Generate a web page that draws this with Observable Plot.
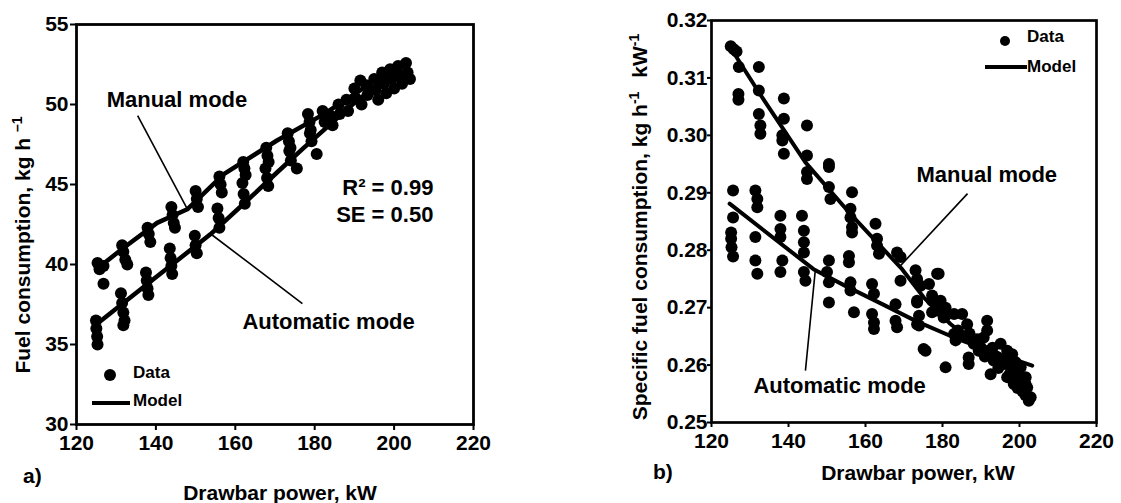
<!DOCTYPE html>
<html><head><meta charset="utf-8">
<script src="https://cdn.jsdelivr.net/npm/d3@7"></script>
<script src="https://cdn.jsdelivr.net/npm/@observablehq/plot@0.6"></script>
<style>
body{margin:0;background:#fff;}
#wrap{display:flex;width:1121px;height:503px;overflow:hidden;}
svg{display:block;}
</style></head><body><div id="wrap"></div>
<script>
const FONT = "'Liberation Sans', Arial, Helvetica, sans-serif";

// ---------- Panel a) Fuel consumption ----------
const xTicks = [120, 140, 160, 180, 200, 220];
const aYTicks = [30, 35, 40, 45, 50, 55];

const aManualX = [125.3,125.8,126.8,126.8, 131.5,131.8,132.3,132.8, 137.9,138.2,138.6, 143.9,144.2,144.5,144.8,
  150.0,150.3,150.6, 156.0,156.3,156.6, 162.0,162.3,162.6, 167.8,168.1,168.4, 173.2,173.5,173.9, 178.3,178.7,179.0,
  182.0,182.5,184.0,184.5,186.0,186.3,188.0,188.4,190.0,190.3,191.5,191.8,193.0,193.3,195.0,195.3,196.0,197.0,197.4,198.0,
  199.0,199.4,200.0,201.0,201.4,202.0,203.0,203.4,204.0];
const aManualY = [40.1,39.7,39.9,38.8, 41.2,40.8,40.3,40.0, 42.3,41.9,41.4, 43.6,43.1,42.6,42.3,
  44.6,44.1,43.6, 45.5,45.0,44.5, 46.4,46.0,45.6, 47.3,46.8,46.4, 48.2,47.7,47.3, 49.4,48.9,48.4,
  49.6,48.9,49.3,48.7,50.0,49.4,50.3,49.6,51.0,50.4,51.5,50.0,51.2,50.6,51.6,50.9,50.3,52.0,51.3,50.7,
  52.2,51.6,51.0,52.4,51.8,51.3,52.6,52.0,51.6];
const aAutoX = [124.9,125.0,125.2,125.3, 131.2,131.5,131.8,132.1,131.8, 137.5,137.7,137.9,138.1, 143.5,143.7,143.9,144.1,
  149.8,150.0,150.3, 155.5,155.8,156.0, 161.8,162.1,162.4, 167.6,168.0,168.3, 173.6,174.0,175.5, 180.5, 178.8,179.2];
const aAutoY = [36.5,36.0,35.5,35.0, 38.2,37.6,37.0,36.5,36.2, 39.5,39.0,38.5,38.1, 41.0,40.4,39.9,39.4,
  41.8,41.2,40.7, 43.5,42.9,42.3, 45.1,44.4,43.8, 46.0,45.4,44.9, 47.1,46.5,46.0, 46.9, 48.2,47.7];
const aManualModelX = [125.5, 131.9, 140.3, 147.9, 157.1, 170.5, 182.3, 194.9, 203.3];
const aManualModelY = [39.8, 41.05, 42.6, 43.45, 45.65, 47.75, 49.4, 51.45, 52.7];
const aAutoModelX = [125.2, 140.0, 153.8, 163.0, 170.5, 177.3, 190.0, 203.3];
const aAutoModelY = [36.3, 39.2, 41.9, 44.0, 45.75, 47.3, 50.1, 52.6];

const aModeLabels = ["Manual mode", "Automatic mode"];
const aModeX = [127.6, 161.8];
const aModeY = [50.28, 36.44];
const aStatLabels = ["R² = 0.99", "SE = 0.50"];
const aStatX = [209.9, 209.9];
const aStatY = [44.8, 43.1];
const aLeaderX1 = [135.4, 154.0], aLeaderY1 = [49.31, 41.875];
const aLeaderX2 = [147.96, 176.9], aLeaderY2 = [43.44, 37.56];

// ---------- Panel b) Specific fuel consumption ----------
const bYTicks = [0.25, 0.26, 0.27, 0.28, 0.29, 0.30, 0.31, 0.32];
const bManualX = [125.0,125.8,126.5,127.1,127.0,127.0, 132.3,132.3,132.3,132.7,132.7, 138.8,138.8,138.4,138.4,138.8,
  144.8,144.8,144.8,144.8, 150.5,150.5,150.5,150.9, 156.5,156.1,156.1,156.5,156.5, 162.6,163.0,163.0,163.5,
  168.2,169.1,169.1,173.0,173.4,178.6,176.5,173.4,177.3,177.3,180.8,180.8,
  174.3,179.0,177.3,179.5,178.6,180.3,183.0,185.1,186.4,188.1,189.4,191.6,191.6,190.7,192.0,193.3,
  195.1,196.8,198.1,195.9,196.8,198.5,199.4,200.3,201.6,202.0,202.9,202.4,198.5,200.7,
  184.0,185.5,187.0,189.0,190.0,191.0,193.0,194.0,194.5,196.0,197.5,199.0,200.0,201.0,197.5,199.5,201.5];
const bManualY = [0.3155,0.3150,0.3146,0.3119,0.3072,0.3062, 0.3119,0.3078,0.3037,0.3017,0.3003, 0.3064,0.3029,0.3000,0.2991,0.2968,
  0.3017,0.2965,0.2936,0.2924, 0.2950,0.2945,0.2910,0.2889, 0.2901,0.2872,0.2857,0.2840,0.2831, 0.2846,0.2820,0.2808,0.2794,
  0.2796,0.2788,0.2747,0.2765,0.2750,0.2759,0.2741,0.2712,0.2712,0.2692,0.2700,0.2686,
  0.2738,0.2759,0.2721,0.2712,0.2695,0.2683,0.2689,0.2689,0.2671,0.2637,0.2625,0.2677,0.2660,0.2648,0.2625,0.2608,
  0.2637,0.2625,0.2619,0.2602,0.2579,0.2590,0.2573,0.2596,0.2579,0.2561,0.2544,0.2538,0.2567,0.2555,
  0.2660,0.2650,0.2655,0.2645,0.2630,0.2615,0.2630,0.2615,0.2595,0.2610,0.2600,0.2605,0.2580,0.2565,0.2585,0.2560,0.2548];
const bAutoX = [125.6,125.6,125.1,125.1,125.2,125.6, 131.4,131.9,131.9,131.4,131.4,131.9, 137.9,137.9,137.9,138.4,137.9,
  143.5,144.0,144.0,144.0,144.0,144.4, 150.5,150.0,150.5,150.5, 155.7,155.7,156.1,156.1,157.0,
  161.7,162.2,161.7,162.2,162.2, 167.8,167.8,168.2, 173.4,173.4,175.1,180.8, 173.9,173.9,175.6,183.0,183.4,186.8,186.8,192.5];
const bAutoY = [0.2904,0.2857,0.2831,0.2820,0.2805,0.2789, 0.2904,0.2889,0.2875,0.2823,0.2782,0.2759, 0.2860,0.2837,0.2823,0.2782,0.2762,
  0.2860,0.2834,0.2814,0.2796,0.2762,0.2747, 0.2782,0.2762,0.2744,0.2709, 0.2790,0.2779,0.2744,0.2730,0.2692,
  0.2741,0.2724,0.2689,0.2674,0.2663, 0.2706,0.2677,0.2666, 0.2709,0.2671,0.2628,0.2596, 0.2686,0.2669,0.2625,0.2654,0.2643,0.2613,0.2602,0.2584];
const bManualModelX = [124.9, 132.3, 144.4, 155.7, 169.5, 175.1, 182.0, 190.0, 196.0, 202.5];
const bManualModelY = [0.3153, 0.3075, 0.2953, 0.2866, 0.2767, 0.2718, 0.2672, 0.2628, 0.2598, 0.2570];
const bAutoModelX = [124.7, 146.5, 155.0, 165.0, 173.0, 183.0, 193.0, 203.3];
const bAutoModelY = [0.2881, 0.2767, 0.2737, 0.2704, 0.2677, 0.2648, 0.2623, 0.2599];

const bModeLabels = ["Manual mode", "Automatic mode"];
const bModeX = [173.25, 130.9];
const bModeY = [0.29308, 0.25632];
const bLeaderX1 = [186.5, 144.4], bLeaderY1 = [0.28986, 0.25902];
const bLeaderX2 = [169.1, 147.0], bLeaderY2 = [0.27732, 0.27679];

// ---------- helpers ----------
function overlay(draw) {
  return (index, scales, values, dim) => {
    const g = d3.create("svg:g")
      .attr("font-family", FONT).attr("font-weight", "bold").attr("fill", "black")
      .attr("text-anchor", "start");
    draw(g, dim);
    return g.node();
  };
}
function legend(g, dotX, dotY, r, textX, dataBase, lineX1, lineX2, lineY, modelBase) {
  g.append("circle").attr("cx", dotX).attr("cy", dotY).attr("r", r);
  g.append("text").attr("x", textX).attr("y", dataBase).attr("font-size", 17).text("Data");
  g.append("line").attr("x1", lineX1).attr("x2", lineX2).attr("y1", lineY).attr("y2", lineY)
    .attr("stroke", "black").attr("stroke-width", 4);
  g.append("text").attr("x", textX).attr("y", modelBase).attr("font-size", 17).text("Model");
}
// rotated title with superscript parts: [text, isSup, dx]
function supText(g, x, y, parts) {
  const t = g.append("text").attr("transform", `translate(${x},${y}) rotate(-90)`)
    .attr("text-anchor", "middle").attr("font-size", 21);
  let raised = false;
  parts.forEach(([s, sup, dx]) => {
    const sp = t.append("tspan").text(s);
    if (dx) sp.attr("dx", dx);
    if (sup && !raised) { sp.attr("font-size", 14).attr("dy", -8); raised = true; }
    else if (!sup && raised) { sp.attr("dy", 8); raised = false; }
  });
}

const dotStyle = {r: 6, fill: "black"};
const tickFont = {fontSize: 21, fontWeight: "bold"};
const labelFont = {fontSize: 22, fontWeight: "bold", fill: "black", lineAnchor: "middle"};

// ---------- panel a ----------
const plotA = Plot.plot({
  width: 560, height: 503,
  marginLeft: 76, marginRight: 87, marginTop: 24, marginBottom: 79,
  style: {fontFamily: FONT, background: "white", overflow: "visible"},
  x: {domain: [120, 220]},
  y: {domain: [30, 55]},
  marks: [
    Plot.axisX({ticks: xTicks, tickSize: 6, tickPadding: 5, strokeWidth: 2, label: null, ...tickFont}),
    Plot.axisY({ticks: aYTicks, tickSize: 6, tickPadding: 2, strokeWidth: 2, label: null, ...tickFont}),
    Plot.dot(aManualX, {x: aManualX, y: aManualY, ...dotStyle}),
    Plot.dot(aAutoX, {x: aAutoX, y: aAutoY, ...dotStyle}),
    Plot.line(aManualModelX, {x: aManualModelX, y: aManualModelY, stroke: "black", strokeWidth: 4.5}),
    Plot.line(aAutoModelX, {x: aAutoModelX, y: aAutoModelY, stroke: "black", strokeWidth: 4.5}),
    Plot.link(aLeaderX1, {x1: aLeaderX1, y1: aLeaderY1, x2: aLeaderX2, y2: aLeaderY2, stroke: "black", strokeWidth: 1.6}),
    Plot.text(aModeLabels, {x: aModeX, y: aModeY, text: aModeLabels, textAnchor: "start", ...labelFont}),
    Plot.text(aStatLabels, {x: aStatX, y: aStatY, text: aStatLabels, textAnchor: "end", ...labelFont}),
    Plot.frame({stroke: "black", strokeWidth: 2.8}),
    overlay((g) => {
      supText(g, 30, 245, [["Fuel consumption, kg h ", false], ["\u20131", true]]);
      g.append("text").attr("x", 280).attr("y", 500).attr("text-anchor", "middle").attr("font-size", 21).text("Drawbar power, kW");
      g.append("text").attr("x", 23).attr("y", 483).attr("font-size", 21).text("a)");
      legend(g, 110, 375, 6, 133, 378, 92, 130, 403, 406);
    })
  ]
});

// ---------- panel b ----------
const plotB = Plot.plot({
  width: 561, height: 503,
  marginLeft: 151, marginRight: 25, marginTop: 20, marginBottom: 81,
  style: {fontFamily: FONT, background: "white", overflow: "visible"},
  x: {domain: [120, 220]},
  y: {domain: [0.25, 0.32]},
  marks: [
    Plot.axisX({ticks: xTicks, tickSize: 5, tickPadding: 6, strokeWidth: 2, label: null, ...tickFont}),
    Plot.axisY({ticks: bYTicks, tickSize: 4, tickPadding: 0, strokeWidth: 2, label: null, tickFormat: d3.format(".2f"), ...tickFont}),
    Plot.dot(bManualX, {x: bManualX, y: bManualY, ...dotStyle}),
    Plot.dot(bAutoX, {x: bAutoX, y: bAutoY, ...dotStyle}),
    Plot.line(bManualModelX, {x: bManualModelX, y: bManualModelY, stroke: "black", strokeWidth: 4}),
    Plot.line(bAutoModelX, {x: bAutoModelX, y: bAutoModelY, stroke: "black", strokeWidth: 4}),
    Plot.link(bLeaderX1, {x1: bLeaderX1, y1: bLeaderY1, x2: bLeaderX2, y2: bLeaderY2, stroke: "black", strokeWidth: 1.6}),
    Plot.text(bModeLabels, {x: bModeX, y: bModeY, text: bModeLabels, textAnchor: "start", ...labelFont}),
    Plot.frame({stroke: "black", strokeWidth: 2.7}),
    overlay((g) => {
      supText(g, 87, 227, [["Specific fuel consumption, kg h", false], ["-1", true], ["kW", false, 14], ["-1", true]]);
      g.append("text").attr("x", 358).attr("y", 480).attr("text-anchor", "middle").attr("font-size", 21).text("Drawbar power, kW");
      g.append("text").attr("x", 93).attr("y", 479).attr("font-size", 21).text("b)");
      legend(g, 445, 41, 5, 467, 42, 425, 467, 67, 72);
    })
  ]
});

document.getElementById("wrap").append(plotA, plotB);
</script>
</body></html>
